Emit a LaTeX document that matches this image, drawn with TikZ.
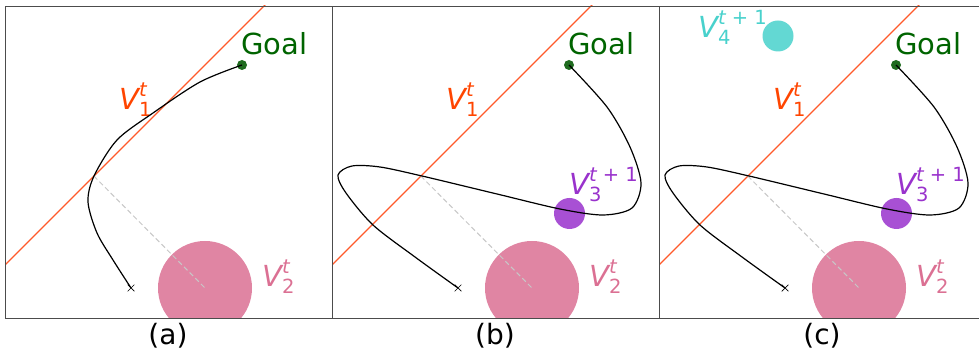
\documentclass[tikz,border=0pt]{standalone}
\usepackage{amsmath}
\usepackage{fontspec}
\setmainfont{DejaVu Sans}
\usetikzlibrary{shapes.misc}
\DeclareMathSizes{29}{29}{19.5}{15}
\definecolor{lineorange}{HTML}{FF5A2A}
\definecolor{labelorange}{HTML}{FF4500}
\definecolor{goalgreen}{HTML}{006400}
\definecolor{goaldot}{HTML}{1F6B1F}
\definecolor{obspink}{HTML}{E085A3}
\definecolor{labelpink}{HTML}{DB7093}
\definecolor{obspurple}{HTML}{A850D4}
\definecolor{labelpurple}{HTML}{9932CC}
\definecolor{obscyan}{HTML}{63D8D3}
\definecolor{labelcyan}{HTML}{48D1CC}
\newcommand{\vlab}[2]{$\textit{V}^{#2}_{\text{#1}}$}
\tikzset{
  panelbox/.style={draw=black!70, line width=0.9},
  wall/.style={lineorange, line width=1.1},
  traj/.style={black, line width=1.2},
  proj/.style={black!22, line width=1, dash pattern=on 5pt off 3pt},
  obs/.style={circle, inner sep=0, minimum size=#1},
  lab/.style={font=\fontsize{29}{32}\selectfont, inner sep=0, anchor=base west},
}

\begin{document}
\begin{tikzpicture}[x=1pt,y=1pt]
\useasboundingbox (0,0) rectangle (979,352);
% parts shared by the three panels
\foreach \p/\tag in {0/a,327/b,654/c} {
\begin{scope}[xshift=\p pt]
  \begin{scope}
    \clip (5,33.5) rectangle (332,346);
    \draw[wall] (-20,62) -- (300,382);
    \node[obs=94, fill=obspink] (obs2\tag) at (205,64) {};
    \coordinate (cross\tag) at (93.8,176);
    \draw[proj] (cross\tag) -- (obs2\tag.center);
  \end{scope}
  \node[circle, fill=goaldot, inner sep=0, minimum size=10] (goal\tag) at (242,287) {};
  \node[lab, text=goalgreen] (goaltxt\tag) at (241,297) {Goal};
  \node[lab, text=labelorange] (v1\tag) at (119,242) {\vlab{1}{\textit{t}}};
  \node[lab, text=labelpink] (v2\tag) at (262,65) {\vlab{2}{\textit{t}}};
  \node[cross out, draw, inner sep=0, minimum size=6, line width=0.7] (start\tag) at (131,64) {};
  \node[font=\fontsize{28}{32}\selectfont] (cap\tag) at (168,16) {(\tag)};
\end{scope}
}
% frames, (c) is cut on the right
\draw[panelbox] (5,33.5) rectangle (332,346);
\draw[panelbox] (332,33.5) rectangle (659,346);
\draw[panelbox] (979,346) -- (659,346) -- (659,33.5) -- (979,33.5);
% new obstacles at t+1
\node[obs=31, fill=obspurple] (obs3b) at (569.5,138.5) {};
\node[lab, text=labelpurple] (v3b) at (569,157) {\vlab{3}{\textit{t}\text{ + 1}}};
\node[obs=31, fill=obspurple] (obs3c) at (896.5,138.5) {};
\node[lab, text=labelpurple] (v3c) at (896,157) {\vlab{3}{\textit{t}\text{ + 1}}};
\node[obs=31, fill=obscyan] (obs4c) at (778,316) {};
\node[lab, text=labelcyan] (v4c) at (698,314) {\vlab{4}{\textit{t}\text{ + 1}}};
% trajectories
\draw[traj] plot[smooth] coordinates {(starta.center) (113,92) (97,119) (88,150) (94,176) (117,212) (153,239) (200,270) (goala.center)};
\foreach \p/\tag in {327/b,654/c}
  \draw[traj, xshift=\p pt] plot[smooth] coordinates {(start\tag.center) (88,95) (46,127) (19,159) (11,177) (25,186) (53,185) (95,176) (170,158) (233,143) (276,137) (305,144) (314,169) (303,205) (280,245) (goal\tag.center)};
\end{tikzpicture}
\end{document}
